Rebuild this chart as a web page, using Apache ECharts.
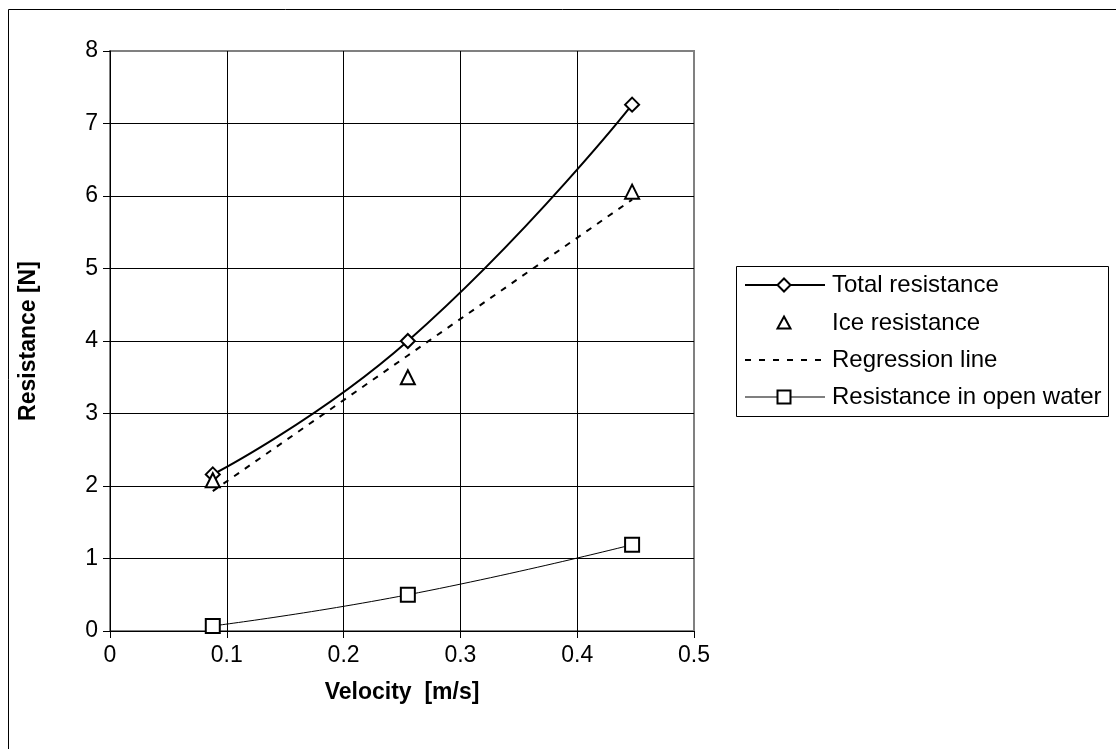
<!DOCTYPE html>
<html>
<head>
<meta charset="utf-8">
<script src="https://cdn.jsdelivr.net/npm/echarts@6/dist/echarts.min.js"></script>
<style>
html,body{margin:0;padding:0;background:#fff;}
#chart{width:1116px;height:749px;}
</style>
</head>
<body>
<div id="chart"></div>
<script>
const velocity = [0.088, 0.255, 0.447];
const totalResistance = [2.16, 4.0, 7.26];
const iceResistance = [2.08, 3.5, 6.06];
const regressionLine = [1.93, 3.80, 5.95];
const openWaterResistance = [0.07, 0.50, 1.19];
const seriesNames = ['Total resistance', 'Ice resistance', 'Regression line', 'Resistance in open water'];
const xAxisTitle = 'Velocity  [m/s]';
const yAxisTitle = 'Resistance [N]';

const zip = (xs, ys) => xs.map((x, i) => [x, ys[i]]);
const FONT = 'Liberation Sans, Arial, sans-serif';

// ---- hand-built legend (decoration) ----
const LG = {x: 736.5, y: 266.5, w: 372, h: 150, lineX0: 745, lineX1: 825, symX: 784, textX: 832, rows: [285, 323, 360, 397]};
function diamond(cx, cy, r) { return [[cx, cy - r], [cx + r, cy], [cx, cy + r], [cx - r, cy]]; }
function triangle(cx, cy, r) { return [[cx, cy - r], [cx + r, cy + r * 0.85], [cx - r, cy + r * 0.85]]; }
const legendGraphics = [
  {type: 'rect', shape: {x: LG.x, y: LG.y, width: LG.w, height: LG.h}, style: {fill: '#fff', stroke: '#000', lineWidth: 1}, z: 50},
  {type: 'line', shape: {x1: LG.lineX0, y1: LG.rows[0], x2: LG.lineX1, y2: LG.rows[0]}, style: {stroke: '#000', lineWidth: 2}, z: 51},
  {type: 'polygon', shape: {points: diamond(LG.symX, LG.rows[0], 6.5)}, style: {fill: '#fff', stroke: '#000', lineWidth: 2}, z: 52},
  {type: 'polygon', shape: {points: triangle(LG.symX, LG.rows[1], 6.5)}, style: {fill: '#fff', stroke: '#000', lineWidth: 2}, z: 52},
  {type: 'line', shape: {x1: LG.lineX0, y1: LG.rows[2], x2: LG.lineX1 + 4, y2: LG.rows[2]}, style: {stroke: '#000', lineWidth: 2, lineDash: [6, 8]}, z: 51},
  {type: 'line', shape: {x1: LG.lineX0, y1: LG.rows[3], x2: LG.lineX1, y2: LG.rows[3]}, style: {stroke: '#555', lineWidth: 1.5}, z: 51},
  {type: 'rect', shape: {x: LG.symX - 6.5, y: LG.rows[3] - 6.5, width: 13, height: 13}, style: {fill: '#fff', stroke: '#000', lineWidth: 2}, z: 52}
].concat(seriesNames.map((n, i) => ({
  type: 'text', x: LG.textX, y: LG.rows[i], z: 53,
  style: {text: n, fontFamily: FONT, fontSize: 24, fill: '#000', verticalAlign: 'middle', align: 'left'}
})));

const chart = echarts.init(document.getElementById('chart'), null, {renderer: 'canvas'});
chart.setOption({
  animation: false,
  backgroundColor: '#fff',
  textStyle: {fontFamily: FONT, color: '#000'},
  graphic: [{
    type: 'rect', z: -10, silent: true,
    shape: {x: 8.5, y: 9.5, width: 1200, height: 800},
    style: {fill: 'none', stroke: '#000', lineWidth: 1}
  }].concat(legendGraphics),
  grid: {
    left: 110, top: 51, right: 422, bottom: 118,
    show: true, borderColor: '#808080', borderWidth: 2, backgroundColor: 'transparent'
  },
  xAxis: {
    type: 'value', min: 0, max: 0.5, interval: 0.1,
    name: xAxisTitle, nameLocation: 'middle', nameGap: 50,
    nameTextStyle: {fontFamily: FONT, fontSize: 23, fontWeight: 'bold', color: '#000'},
    axisLine: {show: true, onZero: false, lineStyle: {color: '#000', width: 1}},
    axisTick: {show: true, inside: false, length: 7, lineStyle: {color: '#000'}},
    axisLabel: {fontFamily: FONT, fontSize: 23, color: '#000', margin: 13, showMaxLabel: true, showMinLabel: true},
    splitLine: {show: true, showMaxLine: false, lineStyle: {color: '#000', width: 1}}
  },
  yAxis: {
    type: 'value', min: 0, max: 8, interval: 1,
    name: yAxisTitle, nameLocation: 'middle', nameGap: 70, nameRotate: 90,
    nameTextStyle: {fontFamily: FONT, fontSize: 23, fontWeight: 'bold', color: '#000'},
    axisLine: {show: true, onZero: false, lineStyle: {color: '#000', width: 1}},
    axisTick: {show: true, inside: false, length: 7, lineStyle: {color: '#000'}},
    axisLabel: {fontFamily: FONT, fontSize: 23, color: '#000', margin: 12},
    splitLine: {show: true, showMaxLine: false, lineStyle: {color: '#000', width: 1}}
  },
  series: [
    {
      name: seriesNames[0], type: 'line', smooth: true,
      data: zip(velocity, totalResistance),
      symbol: 'diamond', symbolSize: 14,
      lineStyle: {color: '#000', width: 2},
      itemStyle: {color: '#fff', borderColor: '#000', borderWidth: 2, opacity: 1},
      z: 5
    },
    {
      name: seriesNames[1], type: 'scatter',
      data: zip(velocity, iceResistance),
      symbol: 'triangle', symbolSize: 14,
      itemStyle: {color: '#fff', borderColor: '#000', borderWidth: 2, opacity: 1},
      z: 6
    },
    {
      name: seriesNames[2], type: 'line', smooth: false,
      data: zip(velocity, regressionLine),
      symbol: 'none', showSymbol: false,
      lineStyle: {color: '#000', width: 2, type: [6, 7]},
      z: 4
    },
    {
      name: seriesNames[3], type: 'line', smooth: true,
      data: zip(velocity, openWaterResistance),
      symbol: 'rect', symbolSize: 14,
      lineStyle: {color: '#000', width: 1},
      itemStyle: {color: '#fff', borderColor: '#000', borderWidth: 2, opacity: 1},
      z: 5
    }
  ]
});
</script>
</body>
</html>
